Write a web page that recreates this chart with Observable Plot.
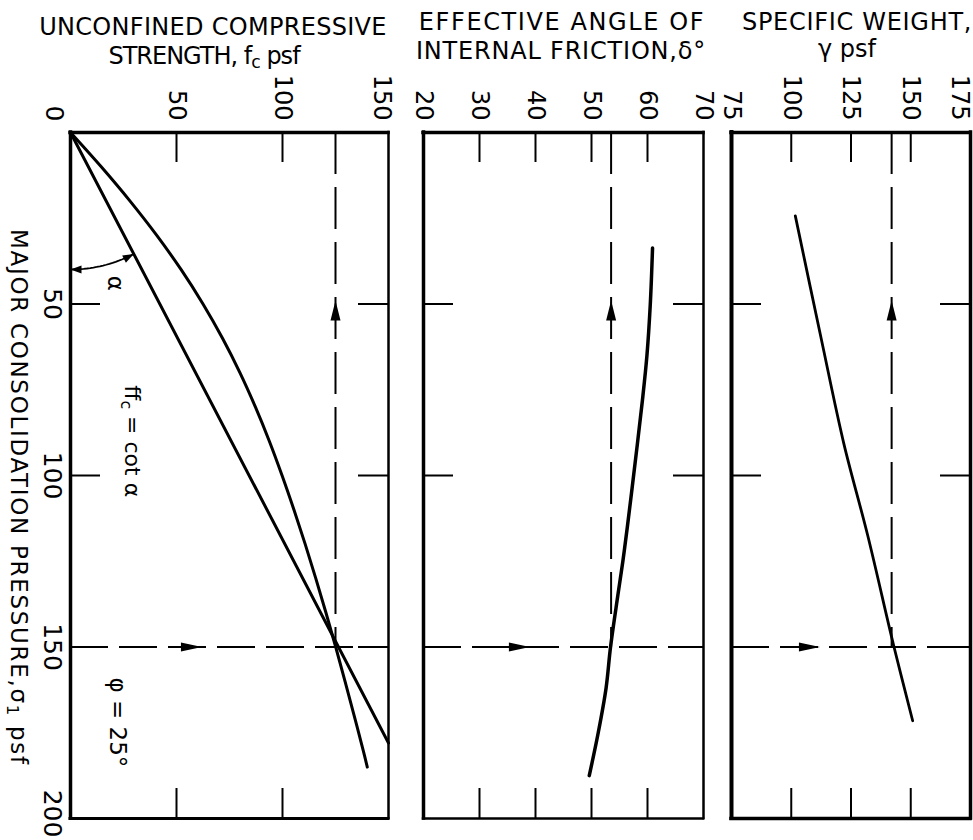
<!DOCTYPE html>
<html><head><meta charset="utf-8">
<script src="https://cdn.jsdelivr.net/npm/d3@7"></script>
<script src="https://cdn.jsdelivr.net/npm/@observablehq/plot@0.6"></script>
<style>
html,body{margin:0;padding:0;background:#fff;}
#wrap{position:relative;width:973px;height:840px;overflow:hidden;font-family:"DejaVu Sans",sans-serif;color:#000;background:#fff;}
.t{position:absolute;white-space:nowrap;font-size:24px;line-height:1;transform:translateX(-50%);}
.p{position:absolute;top:0;}
sub{font-size:0.72em;vertical-align:-0.25em;line-height:0;}
</style></head><body>
<div id="wrap">
  <div id="p1" class="p" style="left:0;width:400px"></div>
  <div id="p2" class="p" style="left:400px;width:320px"></div>
  <div id="p3" class="p" style="left:720px;width:253px"></div>
  <div class="t" style="left:213px;top:15px;letter-spacing:0.3px;">UNCONFINED COMPRESSIVE</div>
  <div class="t" style="left:204px;top:44px;letter-spacing:-1px;">STRENGTH, f<sub>c</sub> psf</div>
  <div class="t" style="left:562px;top:10px;letter-spacing:1.6px;">EFFECTIVE ANGLE OF</div>
  <div class="t" style="left:561px;top:39px;letter-spacing:0.8px;">INTERNAL FRICTION,δ°</div>
  <div class="t" style="left:742px;top:10px;transform:none;letter-spacing:0.7px;">SPECIFIC WEIGHT,</div>
  <div class="t" style="left:847px;top:37px;">γ psf</div>
</div>
<script>
// ---- data ----
const sigmaLabels = [0, 50, 100, 150, 200];
const sideTicks = [50, 100, 150];

const fcLabels = [50, 100, 150];
const fcTicks = [50, 100];
const deltaLabels = [20, 30, 40, 50, 60, 70];
const deltaTicks = [30, 40, 50, 60];
const gammaLabels = [75, 100, 125, 150, 175];
const gammaTicks = [100, 125, 150];

// flow factor line ff_c = cot α (straight)
const ffSigma = [0, 178];
const ffFc = [0, 150];
// flow function
const flowSigma = [0, 10, 20, 30, 40, 50, 60, 70, 80, 90, 100, 110, 120, 130, 140, 150, 160, 170, 180, 185];
const flowFc    = [0, 14.5, 28.1, 40.7, 52.2, 62.5, 71.7, 79.9, 87.2, 93.8, 99.8, 105.4, 110.7, 115.7, 120.5, 125.1, 129.5, 133.8, 138, 140];
// effective angle of internal friction
const deltaSigma = [33.7, 50, 65, 78, 90.7, 103, 115, 125, 135, 150, 162, 175, 187.5];
const deltaVals  = [60.9, 60.5, 59.9, 59.1, 58.2, 57.3, 56.4, 55.6, 54.7, 53.4, 52.6, 51.2, 49.6];
// specific weight
const gammaSigma = [24.3, 60, 90.7, 117.5, 150, 171.5];
const gammaVals  = [101.7, 112.5, 122, 132, 143, 150.8];

// design point read-out (dashed construction lines)
const designSigma = 150;
const designFc = 125, designDelta = 53.5, designGamma = 142;
const arrowSigma = 49;
const arrowFc = 62, arrowDelta = 39, arrowGamma = 112;

// ---- layout ----
const H = 840, MT = 132, MB = 22, PH = H - MT - MB, TICK = 30;
const FONT = "DejaVu Sans";

const arrowRight = {draw(c){ c.moveTo(0,0); c.lineTo(-21,-4.5); c.lineTo(-21,4.5); c.closePath(); }};
const arrowUp = {draw(c){ c.moveTo(0,0); c.lineTo(-5,20); c.lineTo(5,20); c.closePath(); }};
const smallHead = {draw(c){ c.moveTo(0,0); c.lineTo(-11,-4); c.lineTo(-11,4); c.closePath(); }};

function frameMarks(dom, plotW, tbTicks, lw) {
  const cap = {strokeLinecap: "square"};
  return [
    Plot.ruleX(tbTicks, {x: d => d, insetBottom: PH - TICK, strokeWidth: 2}),
    Plot.ruleX(tbTicks, {x: d => d, insetTop: PH - TICK, strokeWidth: 2}),
    Plot.ruleY(sideTicks, {y: d => d, insetRight: plotW - TICK, strokeWidth: 2}),
    Plot.ruleY(sideTicks, {y: d => d, insetLeft: plotW - TICK, strokeWidth: 2}),
    Plot.ruleX([dom[0]], {strokeWidth: lw[0], ...cap}),
    Plot.ruleX([dom[1]], {strokeWidth: lw[1], ...cap}),
    Plot.ruleY([0], {strokeWidth: lw[2], ...cap}),
    Plot.ruleY([200], {strokeWidth: lw[3], ...cap})
  ];
}
function topLabels(vals, dx = 0) {
  return Plot.text(vals, {x: d => d, text: d => String(d), frameAnchor: "top", dy: -12, dx,
    rotate: 90, textAnchor: "end", lineAnchor: "middle", fontSize: 24});
}
function construction(xVal, arrowX) {
  return [
    Plot.ruleY([designSigma], {strokeDasharray: "38,11", strokeWidth: 2.2}),
    Plot.ruleX([xVal], {y1: 0, y2: designSigma, strokeDasharray: "42,13", strokeWidth: 2}),
    Plot.dot([0], {x: () => arrowX, y: () => designSigma, symbol: arrowRight, fill: "black", stroke: "none"}),
    Plot.dot([0], {x: () => xVal, y: () => arrowSigma, symbol: arrowUp, fill: "black", stroke: "none"})
  ];
}
const rows = (ys, xs) => ys.map((s, i) => ({s, v: xs[i]}));

function make(el, width, ml, mr, dom, marks) {
  const svg = Plot.plot({
    width, height: H, marginTop: MT, marginBottom: MB, marginLeft: ml, marginRight: mr,
    x: {domain: dom, axis: null},
    y: {domain: [0, 200], reverse: true, axis: null},
    style: {fontFamily: FONT, overflow: "visible", background: "transparent", color: "black"},
    marks
  });
  document.getElementById(el).appendChild(svg);
  subscriptify(svg);
  return svg;
}
function subscriptify(root) {
  const NS = "http://www.w3.org/2000/svg";
  root.querySelectorAll("text").forEach(t => {
    const s = t.textContent;
    if (s.startsWith("MAJOR")) { t.setAttribute("textLength", 535); t.setAttribute("lengthAdjust", "spacing"); }
    if (!s.includes("_")) return;
    t.textContent = "";
    const mk = (txt) => { const e = document.createElementNS(NS, "tspan"); e.textContent = txt; return e; };
    const re = /_(.)/g; let last = 0, m;
    while ((m = re.exec(s))) {
      if (m.index > last) t.appendChild(mk(s.slice(last, m.index)));
      const sub = mk(m[1]); sub.setAttribute("baseline-shift", "-25%"); sub.setAttribute("font-size", "72%");
      t.appendChild(sub); last = m.index + 2;
    }
    if (last < s.length) t.appendChild(mk(s.slice(last)));
  });
}

// ---- panel 1 ----
const dom1 = [0, 150], W1 = 400, ML1 = 70, MR1 = 12;
const kx1 = (W1 - ML1 - MR1) / (dom1[1] - dom1[0]), ky = PH / 200;
const theta = Math.atan((ffFc[1] * kx1) / (ffSigma[1] * ky));
const R = 137;
const arc = d3.range(0, 1.0001, 0.05).map(f => ({v: R * Math.sin(f * theta) / kx1, s: R * Math.cos(f * theta) / ky}));
const thetaDeg = theta * 180 / Math.PI;

make("p1", W1, ML1, MR1, dom1, [
  ...frameMarks(dom1, W1 - ML1 - MR1, fcTicks, [3.5, 2.5, 3.5, 3]),
  ...construction(designFc, arrowFc),
  Plot.line(rows(ffSigma, ffFc), {x: "v", y: "s", strokeWidth: 3}),
  Plot.line(rows(flowSigma, flowFc), {x: "v", y: "s", curve: "catmull-rom", strokeWidth: 3}),
  Plot.line(arc, {x: "v", y: "s", strokeWidth: 1.8}),
  Plot.dot([arc[0]], {x: "v", y: "s", symbol: smallHead, rotate: 180, fill: "black", stroke: "none"}),
  Plot.dot([arc[arc.length - 1]], {x: "v", y: "s", symbol: smallHead, rotate: -thetaDeg, fill: "black", stroke: "none"}),
  topLabels(fcLabels.filter(d => d < 150)),
  topLabels(fcLabels.filter(d => d === 150), -7),
  Plot.text(sigmaLabels.filter(d => d > 0 && d < 200), {y: d => d, text: d => String(d), frameAnchor: "left", dx: -19,
    rotate: 90, textAnchor: "middle", lineAnchor: "middle", fontSize: 25}),
  Plot.text(sigmaLabels.filter(d => d === 200), {y: d => d, text: d => String(d), frameAnchor: "left", dx: -19, dy: -5,
    rotate: 90, textAnchor: "middle", lineAnchor: "middle", fontSize: 25}),
  Plot.text(sigmaLabels.filter(d => d === 0), {y: d => d, text: d => String(d), frameAnchor: "left", dx: -17, dy: -19,
    rotate: 90, textAnchor: "middle", lineAnchor: "middle", fontSize: 25}),
  Plot.text(["MAJOR CONSOLIDATION PRESSURE,σ_1 psf"], {frameAnchor: "left", dx: -52, dy: 21,
    rotate: 90, textAnchor: "middle", lineAnchor: "middle", fontSize: 23}),
  Plot.text(["α"], {x: () => 21, y: () => 44, rotate: 90, fontSize: 23, textAnchor: "middle", lineAnchor: "middle"}),
  Plot.text(["ff_c = cot α"], {x: () => 29, y: () => 90, rotate: 90, fontSize: 22, textAnchor: "middle", lineAnchor: "middle"}),
  Plot.text(["φ = 25°"], {x: () => 22, y: () => 172, rotate: 90, fontSize: 23, textAnchor: "middle", lineAnchor: "middle"})
]);

// ---- panel 2 ----
const dom2 = [20, 70], W2 = 320, ML2 = 23, MR2 = 17;
make("p2", W2, ML2, MR2, dom2, [
  ...frameMarks(dom2, W2 - ML2 - MR2, deltaTicks, [3.5, 2.5, 3.5, 2.5]),
  ...construction(designDelta, arrowDelta),
  Plot.line(rows(deltaSigma, deltaVals), {x: "v", y: "s", curve: "catmull-rom", strokeWidth: 3.5}),
  topLabels(deltaLabels)
]);

// ---- panel 3 ----
const dom3 = [75, 175], W3 = 253, ML3 = 11, MR3 = 3;
make("p3", W3, ML3, MR3, dom3, [
  ...frameMarks(dom3, W3 - ML3 - MR3, gammaTicks, [4, 3.5, 3.5, 3.5]),
  ...construction(designGamma, arrowGamma),
  Plot.line(rows(gammaSigma, gammaVals), {x: "v", y: "s", curve: "catmull-rom", strokeWidth: 2.8}),
  topLabels(gammaLabels.filter(d => d < 175)),
  topLabels(gammaLabels.filter(d => d === 175), -11)
]);
</script>
</body></html>
